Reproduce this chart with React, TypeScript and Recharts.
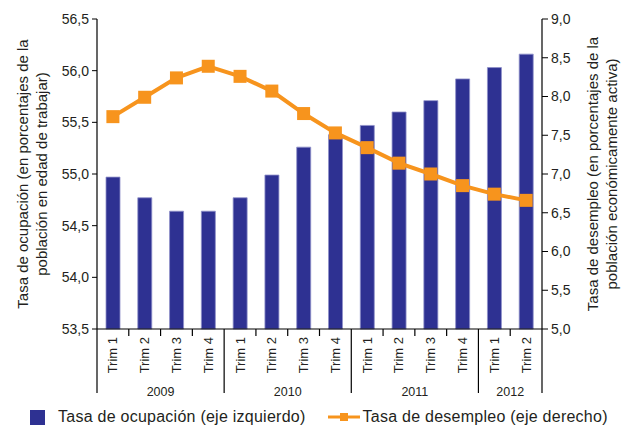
import { ComposedChart, Bar, Line, XAxis, YAxis } from "recharts";

const quarters = [
  "Trim 1", "Trim 2", "Trim 3", "Trim 4",
  "Trim 1", "Trim 2", "Trim 3", "Trim 4",
  "Trim 1", "Trim 2", "Trim 3", "Trim 4",
  "Trim 1", "Trim 2",
];
const years = [
  "2009", "2009", "2009", "2009",
  "2010", "2010", "2010", "2010",
  "2011", "2011", "2011", "2011",
  "2012", "2012",
];
// tasa de ocupación (eje izquierdo)
const occupationRate = [54.97, 54.77, 54.64, 54.64, 54.77, 54.99, 55.26, 55.38, 55.47, 55.6, 55.71, 55.92, 56.03, 56.16];
// tasa de desempleo (eje derecho)
const unemploymentRate = [7.74, 7.99, 8.24, 8.39, 8.26, 8.07, 7.78, 7.53, 7.34, 7.14, 7.0, 6.85, 6.74, 6.66];
const leftTicks = [53.5, 54, 54.5, 55, 55.5, 56, 56.5];
const rightTicks = [5, 5.5, 6, 6.5, 7, 7.5, 8, 8.5, 9];

const data = quarters.map((q, i) => ({
  quarter: q,
  year: years[i],
  ocupacion: occupationRate[i],
  desempleo: unemploymentRate[i],
}));

const W = 622;
const H = 427;
const LEFT_W = 97;
const RIGHT_W = 80;
const STEP = (W - LEFT_W - RIGHT_W) / quarters.length;
const FONT = "'Liberation Sans', Arial, sans-serif";
const BLUE = "#2E3192";
const ORANGE = "#F7941D";
const INK = "#231F20";

const fmt = (v: number) => v.toFixed(1).replace(".", ",");

function QuarterTick(props: any) {
  const { x, y, payload, index } = props;
  const i: number = index ?? payload.index;
  const first = i === 0 || years[i] !== years[i - 1];
  const last = i === years.length - 1;
  const count = years.filter((yr) => yr === years[i]).length;
  return (
    <g>
      <line x1={x - STEP / 2} x2={x - STEP / 2} y1={y} y2={y + (first ? 64 : 7)} stroke="#000" strokeWidth={1.2} />
      {last && <line x1={x + STEP / 2} x2={x + STEP / 2} y1={y} y2={y + 64} stroke="#000" strokeWidth={1.2} />}
      <text
        transform={`translate(${x + 4.5},${y + 8}) rotate(-90)`}
        textAnchor="end"
        fontSize={13}
        fill={INK}
        fontFamily={FONT}
      >
        {payload.value}
      </text>
      {first && (
        <text x={x + ((count - 1) / 2) * STEP} y={y + 67} textAnchor="middle" fontSize={12.5} fill={INK} fontFamily={FONT}>
          {years[i]}
        </text>
      )}
    </g>
  );
}

function AxisTitle({ viewBox, lines, dx }: any) {
  const cy = viewBox.y + viewBox.height / 2;
  return (
    <g>
      {lines.map((t: string, k: number) => {
        const cx = viewBox.x + dx + k * 19;
        return (
          <text
            key={k}
            transform={`translate(${cx},${cy}) rotate(-90)`}
            textAnchor="middle"
            dominantBaseline="central"
            fontSize={15}
            fill={INK}
            fontFamily={FONT}
          >
            {t}
          </text>
        );
      })}
    </g>
  );
}

const SquareDot = (p: any) => (
  <rect key={p.index} x={p.cx - 6.5} y={p.cy - 6.5} width={13} height={13} fill={ORANGE} />
);

export default function App() {
  return (
    <div style={{ position: "absolute", left: 0, top: 0, width: W, height: H, background: "#fff", fontFamily: FONT }}>
      <ComposedChart width={W} height={H} data={data} margin={{ top: 19, right: 0, bottom: 28, left: 0 }}>
        <XAxis
          dataKey="quarter"
          interval={0}
          tickLine={false}
          tickSize={0}
          tickMargin={0}
          height={70}
          axisLine={{ stroke: "#000", strokeWidth: 1.2 }}
          tick={<QuarterTick />}
        />
        <YAxis
          yAxisId="left"
          orientation="left"
          width={LEFT_W}
          domain={[53.5, 56.5]}
          ticks={leftTicks}
          tickFormatter={fmt}
          tickSize={5}
          tickMargin={3}
          axisLine={{ stroke: "#000", strokeWidth: 1.2 }}
          tickLine={{ stroke: "#000" }}
          tick={{ fill: INK, fontSize: 14, fontFamily: FONT }}
          label={(p: any) => (
            <AxisTitle
              viewBox={p.viewBox}
              dx={22}
              lines={["Tasa de ocupación (en porcentajes de la", "población en edad de trabajar)"]}
            />
          )}
        />
        <YAxis
          yAxisId="right"
          orientation="right"
          width={RIGHT_W}
          domain={[5, 9]}
          ticks={rightTicks}
          tickFormatter={fmt}
          tickSize={6}
          tickMargin={3}
          axisLine={{ stroke: "#000", strokeWidth: 1.2 }}
          tickLine={{ stroke: "#000" }}
          tick={{ fill: INK, fontSize: 14, fontFamily: FONT }}
          label={(p: any) => (
            <AxisTitle
              viewBox={p.viewBox}
              dx={50}
              lines={["Tasa de desempleo (en porcentajes de la", "población económicamente activa)"]}
            />
          )}
        />
        <Bar
          yAxisId="left"
          dataKey="ocupacion"
          name="Tasa de ocupación (eje izquierdo)"
          fill={BLUE}
          stroke="#8F91C9"
          strokeWidth={0.8}
          barSize={14}
          isAnimationActive={false}
        />
        <Line
          yAxisId="right"
          dataKey="desempleo"
          name="Tasa de desempleo (eje derecho)"
          type="linear"
          stroke={ORANGE}
          strokeWidth={4}
          dot={SquareDot}
          activeDot={false}
          isAnimationActive={false}
        />
      </ComposedChart>
      <div
        style={{
          position: "absolute",
          top: 407,
          left: 30,
          display: "flex",
          alignItems: "center",
          fontSize: 16,
          letterSpacing: "0.25px",
          color: INK,
          whiteSpace: "nowrap",
          lineHeight: "20px",
        }}
      >
        <span style={{ display: "inline-block", width: 15, height: 15, background: BLUE, marginRight: 13 }} />
        <span>Tasa de ocupación (eje izquierdo)</span>
        <svg width={32} height={12} style={{ marginLeft: 22, marginRight: 3 }}>
          <line x1={0} x2={32} y1={6} y2={6} stroke={ORANGE} strokeWidth={3} />
          <rect x={12} y={2} width={8} height={8} fill={ORANGE} />
        </svg>
        <span>Tasa de desempleo (eje derecho)</span>
      </div>
    </div>
  );
}
